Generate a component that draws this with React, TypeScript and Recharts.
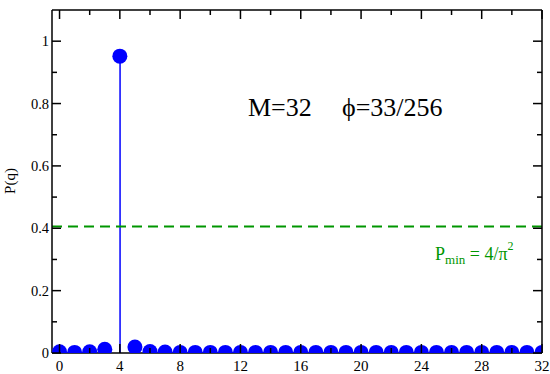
import React from 'react';
import { ComposedChart, XAxis, YAxis, Bar, Scatter, ReferenceLine } from 'recharts';

const qValues = [0,1,2,3,4,5,6,7,8,9,10,11,12,13,14,15,16,17,18,19,20,21,22,23,24,25,26,27,28,29,30,31,32];
const pValues = [0.004,0.002,0.004,0.012,0.952,0.019,0.005,0.003,0.002,0.002,0.002,0.002,0.002,0.002,0.002,0.002,0.002,0.002,0.002,0.002,0.002,0.002,0.002,0.002,0.002,0.002,0.002,0.002,0.002,0.002,0.002,0.002,0.002];
const xTicks = [0,2,4,6,8,10,12,14,16,18,20,22,24,26,28,30,32];
const yTicks = [0,0.1,0.2,0.3,0.4,0.5,0.6,0.7,0.8,0.9,1.0];
const yTickLabels = ['0','','0.2','','0.4','','0.6','','0.8','','1'];
const pMin = 4 / (Math.PI * Math.PI);

const data = qValues.map((q, i) => ({ q, p: pValues[i] }));

const FONT = 'Liberation Serif';
const BLUE = '#0000ff';
const GREEN = '#009600';
const MAJOR = 9;
const MINOR = 5;

const isMajorX = (v: number) => Math.round(v) % 4 === 0;
const yIndex = (v: number) => yTicks.findIndex((t) => Math.abs(t - v) < 1e-6);
const isMajorY = (v: number) => yIndex(v) % 2 === 0;

function BottomTick(props: any) {
  const { x, y, payload } = props;
  const v = payload.value;
  const major = isMajorX(v);
  return (
    <g>
      <line x1={x} y1={y} x2={x} y2={y - (major ? MAJOR : MINOR)} stroke="#000" strokeWidth={1.5} />
      {major && (
        <text x={x} y={y + 18} textAnchor="middle" fontFamily={FONT} fontSize={15} fill="#000">{v}</text>
      )}
    </g>
  );
}

function TopTick(props: any) {
  const { x, y, payload } = props;
  const major = isMajorX(payload.value);
  return <line x1={x} y1={y} x2={x} y2={y + (major ? MAJOR : MINOR)} stroke="#000" strokeWidth={1.5} />;
}

function LeftTick(props: any) {
  const { x, y, payload } = props;
  const v = payload.value;
  const major = isMajorY(v);
  const label = yTickLabels[yIndex(v)];
  return (
    <g>
      <line x1={x} y1={y} x2={x + (major ? MAJOR : MINOR)} y2={y} stroke="#000" strokeWidth={1.5} />
      {label && (
        <text x={x - 3} y={y + 5} textAnchor="end" fontFamily={FONT} fontSize={14.5} fill="#000">{label}</text>
      )}
    </g>
  );
}

function RightTick(props: any) {
  const { x, y, payload } = props;
  const major = isMajorY(payload.value);
  return <line x1={x} y1={y} x2={x - (major ? MAJOR : MINOR)} y2={y} stroke="#000" strokeWidth={1.5} />;
}

const axisLine = { stroke: '#000', strokeWidth: 1.5 };
const noShape = () => <g />;

export default function App() {
  return (
    <div style={{ position: 'absolute', left: 0, top: 0, width: 550, height: 374, background: '#fff' }}>
      <ComposedChart width={550} height={374} data={data} margin={{ top: 9, right: 7, bottom: 0, left: 0 }}>
        <XAxis
          xAxisId="b"
          dataKey="q"
          type="number"
          domain={[-0.5, 32]}
          ticks={xTicks}
          interval={0}
          height={21}
          tickSize={0}
          tickMargin={0}
          tickLine={false}
          axisLine={axisLine}
          tick={<BottomTick />}
          allowDataOverflow
        />
        <XAxis
          xAxisId="t"
          dataKey="q"
          type="number"
          orientation="top"
          domain={[-0.5, 32]}
          ticks={xTicks}
          interval={0}
          height={1}
          tickSize={0}
          tickMargin={0}
          tickLine={false}
          axisLine={axisLine}
          tick={<TopTick />}
          allowDataOverflow
        />
        <YAxis
          yAxisId="l"
          type="number"
          domain={[0, 1.1]}
          ticks={yTicks}
          interval={0}
          width={52}
          tickSize={0}
          tickMargin={0}
          tickLine={false}
          axisLine={axisLine}
          tick={<LeftTick />}
          allowDataOverflow
          label={{
            content: () => (
              <text x={15} y={181} transform="rotate(-90 15 181)" textAnchor="middle" fontFamily={FONT} fontSize={15} fill="#000">P(q)</text>
            ),
          }}
        />
        <YAxis
          yAxisId="r"
          type="number"
          orientation="right"
          domain={[0, 1.1]}
          ticks={yTicks}
          interval={0}
          width={1}
          tickSize={0}
          tickMargin={0}
          tickLine={false}
          axisLine={axisLine}
          tick={<RightTick />}
          allowDataOverflow
        />
        <ReferenceLine
          xAxisId="b"
          yAxisId="l"
          y={pMin}
          stroke={GREEN}
          strokeWidth={2}
          strokeDasharray="10 6"
        />
        <Scatter xAxisId="t" yAxisId="r" dataKey="p" shape={noShape} isAnimationActive={false} />
        <Bar xAxisId="b" yAxisId="l" dataKey="p" fill={BLUE} barSize={1.5} isAnimationActive={false} />
        <Scatter xAxisId="b" yAxisId="l" dataKey="p" fill={BLUE} shape={(p: any) => <circle cx={p.cx} cy={p.cy} r={7.5} fill={BLUE} />} isAnimationActive={false} />
      </ComposedChart>
      <svg width={550} height={374} style={{ position: 'absolute', left: 0, top: 0, pointerEvents: 'none' }}>
        <text x={248} y={116} fontFamily={FONT} fontSize={26} fill="#000">M=32</text>
        <text x={342} y={116} fontFamily={FONT} fontSize={26} fill="#000">{'\u03d5=33/256'}</text>
        <text x={435} y={260} fontFamily={FONT} fontSize={18} fill={GREEN}>
          P
          <tspan fontSize={13} dy={4}>min</tspan>
          <tspan fontSize={18} dy={-4}>{' = 4/\u03c0'}</tspan>
          <tspan fontSize={12} dy={-10}>2</tspan>
        </text>
      </svg>
    </div>
  );
}
